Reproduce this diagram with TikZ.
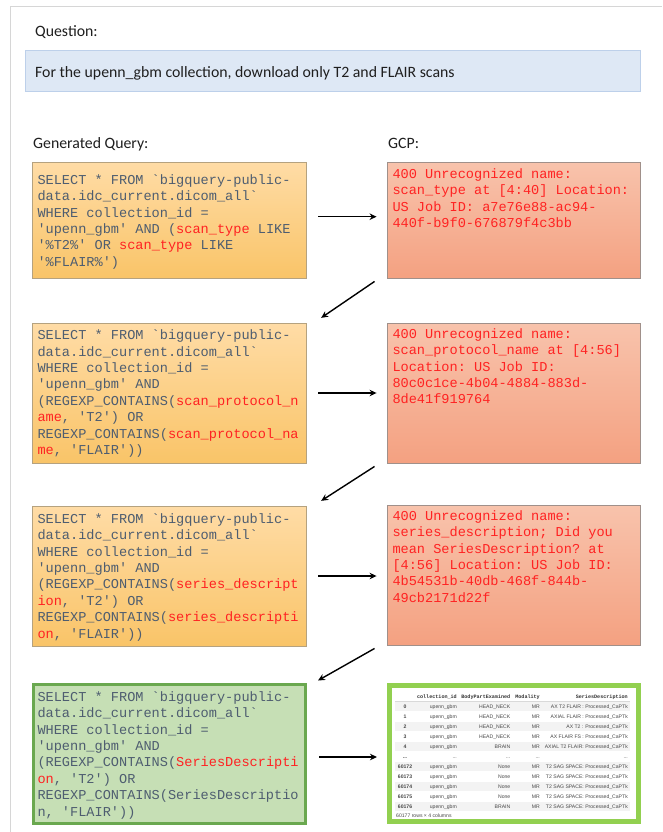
\documentclass[tikz,border=0pt]{standalone}
\usepackage{fontspec}
\setmainfont{Carlito}
\setmonofont{Liberation Mono}
\newfontfamily\tblsans{Liberation Sans}
\usetikzlibrary{arrows.meta,calc}
\definecolor{codegray}{HTML}{4E5D70}
\definecolor{codered}{HTML}{FF2222}
\definecolor{qtop}{HTML}{FFDCA6}
\definecolor{qbot}{HTML}{F9C468}
\definecolor{qedge}{HTML}{B5A27F}
\definecolor{gtop}{HTML}{F8C3AC}
\definecolor{gbot}{HTML}{F4A181}
\definecolor{gedge}{HTML}{A0908A}
\definecolor{okfill}{HTML}{C6DFB5}
\definecolor{okedge}{HTML}{6AA84F}
\definecolor{tbledge}{HTML}{92D050}
\definecolor{qfill}{HTML}{DEE8F5}
\definecolor{qline}{HTML}{BDD0EA}
\definecolor{frame}{HTML}{D6D6D6}
\definecolor{rowshade}{HTML}{F3F3F3}
\newcommand\rd[1]{{\color{codered}#1}}
\newcommand\tblrow[7]{%
  \node[tcell, anchor=base, font=\tblsans\bfseries\fontsize{5.1}{6}\selectfont] (#1i) at (405,#2) {#3};
  \node[tcell] (#1c) at (457,#2) {#4};
  \node[tcell] (#1b) at (510.5,#2) {#5};
  \node[tcell] (#1m) at (540,#2) {#6};
  \node[tcell] (#1s) at (628,#2) {#7};
}
\begin{document}
\begin{tikzpicture}[x=1pt,y=-1pt,
  lbl/.style={anchor=base west, inner sep=0pt, font=\fontsize{15.8}{18}\selectfont, text=black!88},
  qbox/.style={draw=qedge, line width=0.9pt, top color=qtop, bottom color=qbot, inner sep=0pt},
  gbox/.style={draw=gedge, line width=0.9pt, top color=gtop, bottom color=gbot, inner sep=0pt},
  okbox/.style={draw=okedge, line width=3pt, fill=okfill, inner sep=0pt},
  tblbox/.style={draw=tbledge, line width=5pt, fill=white, inner sep=0pt},
  codetext/.style={anchor=north west, inner sep=0pt, align=left, font=\ttfamily\fontsize{13.6}{16.4}\selectfont, text=codegray},
  errtext/.style={codetext, text=codered},
  tcell/.style={anchor=base east, inner sep=0pt, font=\tblsans\fontsize{5.1}{6}\selectfont, text=black!72},
  thead/.style={anchor=base east, inner sep=0pt, font=\ttfamily\bfseries\fontsize{5.1}{6}\selectfont, text=black!80},
  conn/.style={draw=black, line width=1.4pt, -{Stealth[length=7pt,width=6.5pt]}}
]
\useasboundingbox (0,0) rectangle (662,832);
\fill[white] (0,0) rectangle (662,832);
\draw[frame, line width=0.8pt] (10,832) -- (10,6) -- (662,6);

% question
\node[lbl] (qlabel) at (35,36.5) {Question:};
\node[draw=qline, fill=qfill, line width=0.6pt, minimum width=615pt, minimum height=41pt, inner sep=0pt] (qbg) at (332.5,70.5) {};
\node[lbl] (qtext) at (35,77.5) {For the upenn\_gbm collection, download only T2 and FLAIR scans};

\node[lbl] (glabel) at (33,148.5) {Generated Query:};
\node[lbl] (cplabel) at (388,148.5) {GCP:};

% query boxes
\node[qbox, minimum width=274pt, minimum height=116pt] (q1) at (169,220) {};
\node[qbox, minimum width=274pt, minimum height=140pt] (q2) at (169,393) {};
\node[qbox, minimum width=274pt, minimum height=140pt] (q3) at (169,576) {};
\node[okbox, minimum width=272pt, minimum height=139pt] (q4) at (169.5,754) {};

% gcp boxes
\node[gbox, minimum width=253pt, minimum height=116pt] (g1) at (513.5,220) {};
\node[gbox, minimum width=253pt, minimum height=140pt] (g2) at (513.5,393) {};
\node[gbox, minimum width=253pt, minimum height=140pt] (g3) at (513.5,575) {};
\node[tblbox, minimum width=249pt, minimum height=136pt] (g4) at (514,753.5) {};

% query texts
\node[codetext] (q1t) at (37.3,172) {\rule{0pt}{12pt}SELECT * FROM `bigquery-public-\\
data.idc\_current.dicom\_all`\\
WHERE collection\_id =\\
'upenn\_gbm' AND (\rd{scan\_type} LIKE\\
'\%T2\%' OR \rd{scan\_type} LIKE\\
'\%FLAIR\%')};

\node[codetext] (q2t) at (37.3,327.5) {\rule{0pt}{12pt}SELECT * FROM `bigquery-public-\\
data.idc\_current.dicom\_all`\\
WHERE collection\_id =\\
'upenn\_gbm' AND\\
(REGEXP\_CONTAINS(\rd{scan\_protocol\_n}\\
\rd{ame}, 'T2') OR\\
REGEXP\_CONTAINS(\rd{scan\_protocol\_na}\\
\rd{me}, 'FLAIR'))};

\node[codetext] (q3t) at (37.3,511) {\rule{0pt}{12pt}SELECT * FROM `bigquery-public-\\
data.idc\_current.dicom\_all`\\
WHERE collection\_id =\\
'upenn\_gbm' AND\\
(REGEXP\_CONTAINS(\rd{series\_descript}\\
\rd{ion}, 'T2') OR\\
REGEXP\_CONTAINS(\rd{series\_descripti}\\
\rd{on}, 'FLAIR'))};

\node[codetext] (q4t) at (37.3,689) {\rule{0pt}{12pt}SELECT * FROM `bigquery-public-\\
data.idc\_current.dicom\_all`\\
WHERE collection\_id =\\
'upenn\_gbm' AND\\
(REGEXP\_CONTAINS(\rd{SeriesDescripti}\\
\rd{on}, 'T2') OR\\
REGEXP\_CONTAINS(SeriesDescriptio\\
n, 'FLAIR'))};

% error texts
\node[errtext] (g1t) at (392.3,166) {\rule{0pt}{12pt}400 Unrecognized name:\\
scan\_type at {[}4:40{]} Location:\\
US Job ID: a7e76e88-ac94-\\
440f-b9f0-676879f4c3bb};

\node[errtext] (g2t) at (392.3,326) {\rule{0pt}{12pt}400 Unrecognized name:\\
scan\_protocol\_name at {[}4:56{]}\\
Location: US Job ID:\\
80c0c1ce-4b04-4884-883d-\\
8de41f919764};

\node[errtext] (g3t) at (392.3,508) {\rule{0pt}{12pt}400 Unrecognized name:\\
series\_description; Did you\\
mean SeriesDescription? at\\
{[}4:56{]} Location: US Job ID:\\
4b54531b-40db-468f-844b-\\
49cb2171d22f};

% result table
\foreach \yy in {706.5,726.5,746.5,766.5,786.5,806.5}
  \fill[rowshade] (395,\yy-4.7) rectangle (630,\yy+4.7);
\draw[black!15, line width=0.4pt] (395,701.3) -- (630,701.3);
\node[thead] (h1) at (457,698) {collection\_id};
\node[thead] (h2) at (510.5,698) {BodyPartExamined};
\node[thead] (h3) at (540,698) {Modality};
\node[thead] (h4) at (628,698) {SeriesDescription};
\tblrow{ra}{708.3}{0}{upenn\_gbm}{HEAD\_NECK}{MR}{AX T2 FLAIR : Processed\_CaPTk}
\tblrow{rb}{718.3}{1}{upenn\_gbm}{HEAD\_NECK}{MR}{AXIAL FLAIR : Processed\_CaPTk}
\tblrow{rc}{728.3}{2}{upenn\_gbm}{HEAD\_NECK}{MR}{AX T2 : Processed\_CaPTk}
\tblrow{rd}{738.3}{3}{upenn\_gbm}{HEAD\_NECK}{MR}{AX FLAIR FS : Processed\_CaPTk}
\tblrow{re}{748.3}{4}{upenn\_gbm}{BRAIN}{MR}{AXIAL T2 FLAIR: Processed\_CaPTk}
\tblrow{rf}{758.3}{...}{...}{...}{...}{...}
\tblrow{rg}{768.3}{60172}{upenn\_gbm}{None}{MR}{T2 SAG SPACE: Processed\_CaPTk}
\tblrow{rh}{778.3}{60173}{upenn\_gbm}{None}{MR}{T2 SAG SPACE: Processed\_CaPTk}
\tblrow{ri}{788.3}{60174}{upenn\_gbm}{None}{MR}{T2 SAG SPACE: Processed\_CaPTk}
\tblrow{rj}{798.3}{60175}{upenn\_gbm}{None}{MR}{T2 SAG SPACE: Processed\_CaPTk}
\tblrow{rk}{808.3}{60176}{upenn\_gbm}{BRAIN}{MR}{T2 SAG SPACE: Processed\_CaPTk}
\node[tcell, anchor=base west] (foot) at (396,817.5) {60177 rows × 4 columns};

% connectors
\draw[conn] ($(q1.east)+(12,-3.3)$) -- ($(g1.west)+(-10,-3.3)$);
\draw[conn] ($(g1.south west)+(-12,3)$) -- ($(q2.north east)+(14.7,-4.7)$);
\draw[conn] ($(q2.east)+(12,0)$) -- ($(g2.west)+(-10,0)$);
\draw[conn] ($(g2.south west)+(-12,3)$) -- ($(q3.north east)+(14.7,-4.7)$);
\draw[conn] ($(q3.east)+(12,0)$) -- ($(g3.west)+(-10,1)$);
\draw[conn] ($(g3.south west)+(-12,3)$) -- ($(q4.north east)+(11,-2.5)$);
\draw[conn] ($(q4.east)+(12,3)$) -- ($(g4.west)+(-10,3.5)$);
\end{tikzpicture}
\end{document}
